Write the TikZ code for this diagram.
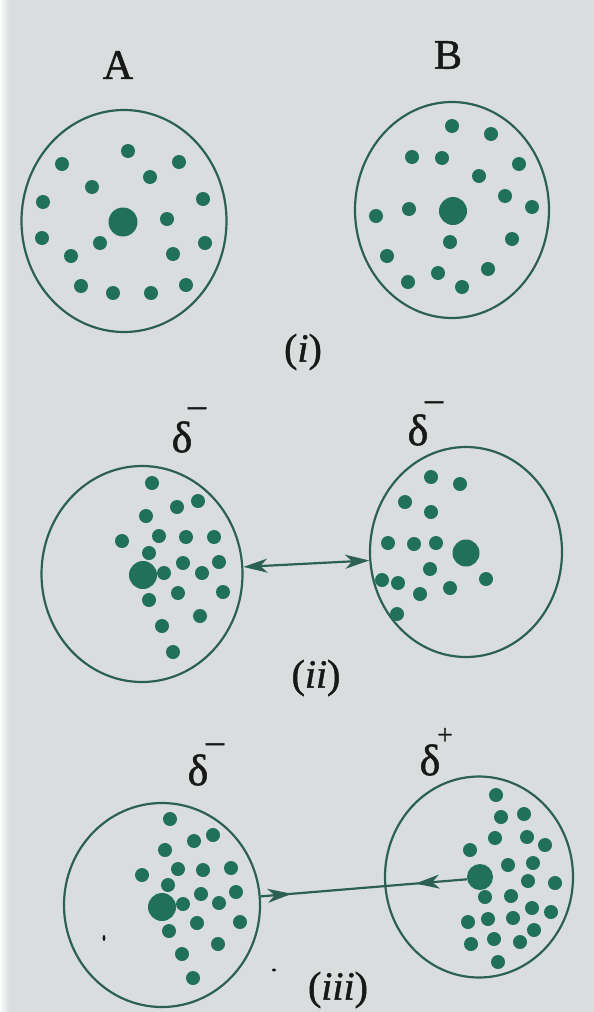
\documentclass[tikz,border=0pt]{standalone}
\usepackage{fontspec}
\setmainfont{Liberation Serif}
\newfontfamily\printface{Liberation Serif}[FakeBold=1.2]
\usetikzlibrary{shapes.geometric,arrows.meta,decorations.markings}

\definecolor{paper}{RGB}{217,221,222}
\definecolor{dotgreen}{RGB}{33,112,88}
\definecolor{rimgreen}{RGB}{44,96,84}
\definecolor{ink}{RGB}{24,24,24}

\tikzset{headtip/.tip={Stealth[length=24pt,width=14pt,inset=7pt]}}

\begin{document}
\begin{tikzpicture}[x=1pt,y=-1pt,
  shell/.style={draw=rimgreen, line width=2.2pt, ellipse, inner sep=0pt},
  nucleus/.style={circle, fill=dotgreen, inner sep=0pt, minimum size=#1},
  nucleus/.default=28pt,
  electron/.style={fill=dotgreen},
  lbl/.style={text=ink, inner sep=0pt, font=\printface\fontsize{42}{46}\selectfont},
  charge/.style={text=ink, inner sep=0pt, font=\printface\fontsize{44}{48}\selectfont},
  sign/.style={text=ink, inner sep=0pt, font=\printface\fontsize{36}{38}\selectfont},
  caption/.style={text=ink, inner sep=0pt, font=\printface\fontsize{40}{44}\selectfont},
  link/.style={draw=rimgreen, line width=2.2pt}
]
% paper
\useasboundingbox (0,0) rectangle (594,1012);
\fill[paper] (0,0) rectangle (594,1012);
\shade[left color=white!90!paper, right color=paper] (0,0) rectangle (10,1012);

% ---------- (i) two identical atoms ----------
\node[lbl] (labA) at (118,65) {A};
\node[lbl] (labB) at (448,55) {B};
\node[shell, minimum width=205pt, minimum height=222pt] (sA) at (124,221) {};
\node[shell, minimum width=194pt, minimum height=216pt] (sB) at (452,210) {};
\node[nucleus=29pt] (nA) at (123,222) {};
\node[nucleus=28pt] (nB) at (453,211) {};
\foreach \px/\py in {128/151, 62/164, 179/162, 150/177, 92/187, 43/202, 203/199,
  167/219, 42/238, 100/243, 205/243, 71/256, 173/254, 81/286, 113/293, 151/293, 186/285}
  \fill[electron] (\px,\py) circle[radius=7pt];
\foreach \px/\py in {452/126, 491/134, 412/157, 442/158, 519/164, 479/176, 505/196,
  409/209, 376/216, 532/207, 450/242, 512/239, 387/256, 438/273, 488/269, 408/282, 462/287}
  \fill[electron] (\px,\py) circle[radius=7pt];
\node[caption] (capI) at (303,352) {(\textit{i})};

% ---------- (ii) two induced dipoles ----------
\node[charge] (d2L) at (182,437) {δ};
\node[sign] (s2Lsign) at (197,412) {–};
\node[charge] (d2R) at (418,430) {δ};
\node[sign] (s2Rsign) at (434,406) {–};
\node[shell, minimum width=201pt, minimum height=216pt] (s2L) at (142,574) {};
\node[shell, minimum width=192pt, minimum height=210pt] (s2R) at (466,552) {};
\node[nucleus=28pt] (n2L) at (143,575) {};
\node[nucleus=27pt] (n2R) at (466,553) {};
\foreach \px/\py in {152/483, 198/501, 177/507, 146/516, 122/541, 159/536, 186/537,
  214/537, 149/553, 183/563, 219/562, 164/573, 202/573, 149/600, 178/593, 223/592,
  200/616, 162/626, 173/652}
  \fill[electron] (\px,\py) circle[radius=7pt];
\foreach \px/\py in {431/477, 460/484, 405/502, 431/512, 388/543, 414/544, 436/543,
  430/569, 382/580, 398/583, 420/594, 450/588, 486/579, 397/614}
  \fill[electron] (\px,\py) circle[radius=7pt];
\draw[link, {headtip}-{headtip}] (s2L.4) -- (s2R.185);
\node[caption] (capII) at (316,678) {(\textit{ii})};

% ---------- (iii) dipole -- induced dipole ----------
\node[charge] (d3L) at (198,770) {δ};
\node[sign] (s3Lsign) at (215,748) {–};
\node[charge] (d3R) at (430,760) {δ};
\node[sign, font=\printface\fontsize{28}{30}\selectfont] (s3Rsign) at (445,736) {+};
\node[shell, minimum width=196pt, minimum height=204pt] (s3L) at (162,905) {};
\node[shell, minimum width=188pt, minimum height=201pt] (s3R) at (479,877) {};
\node[nucleus=28pt] (n3L) at (162,907) {};
\node[nucleus=26pt] (n3R) at (480,877) {};
\foreach \px/\py in {170/819, 213/835, 194/841, 165/850, 142/875, 178/869, 203/870,
  231/868, 168/885, 201/894, 236/892, 183/904, 219/903, 197/923, 240/922, 169/931,
  218/944, 182/954, 193/978}
  \fill[electron] (\px,\py) circle[radius=7pt];
\foreach \px/\py in {496/795, 501/817, 524/814, 495/838, 527/837, 545/845, 470/850,
  508/865, 533/863, 485/897, 528/881, 555/883, 511/896, 532/908, 551/912, 468/922,
  488/919, 513/918, 534/930, 471/944, 494/939, 520/942, 498/962}
  \fill[electron] (\px,\py) circle[radius=7pt];
\draw[link, postaction={decorate}, decoration={markings,
    mark=at position 0.15 with {\arrow{headtip}},
    mark=at position 0.75 with {\arrowreversed{headtip}}}]
  (s3L.5) -- (n3R.190);
\node[caption] (capIII) at (338,990) {(\textit{iii})};

% specks on the paper
\fill[ink] (104,938) ellipse[x radius=1.4pt, y radius=3pt];
\fill[ink] (274,970) ellipse[x radius=2pt, y radius=1.5pt];
\end{tikzpicture}
\end{document}
